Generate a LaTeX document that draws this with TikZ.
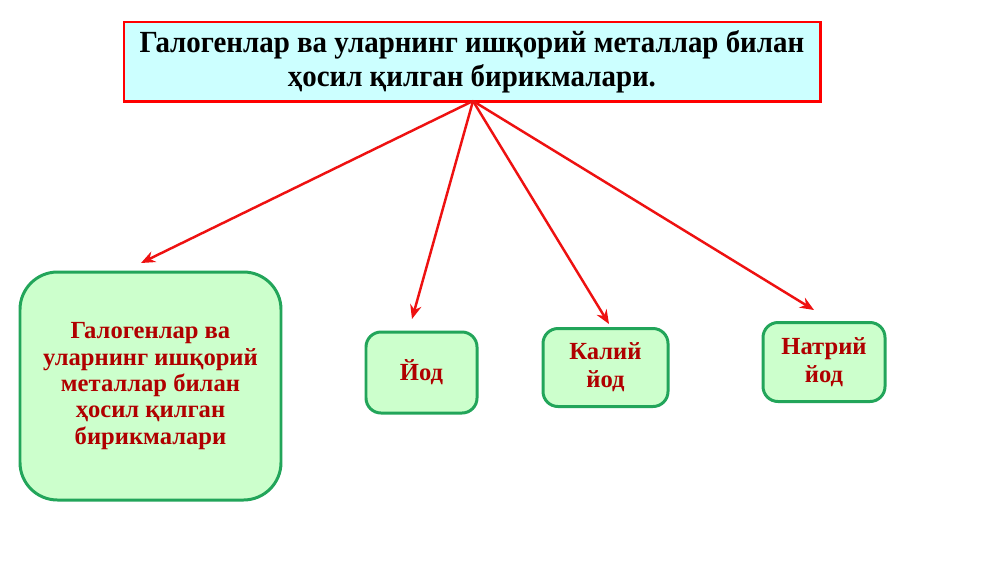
\documentclass[tikz,border=0pt]{standalone}
\usepackage{fontspec}
\setmainfont{Liberation Serif}
\newfontfamily\titlefont[FakeStretch=0.94]{Liberation Serif}
\usetikzlibrary{arrows.meta}
\definecolor{titlefill}{HTML}{CCFFFF}
\definecolor{boxfill}{HTML}{CCFFCC}
\definecolor{boxline}{HTML}{22A55A}
\definecolor{boxtext}{HTML}{B00000}
\definecolor{arrowred}{HTML}{EE1111}
\tikzset{
  titlebox/.style={draw=red, line width=1.7pt, fill=titlefill, inner sep=0pt,
    minimum width=696*0.02cm, minimum height=79*0.02cm, align=center,
    font=\titlefont\fontsize{17.5}{19.5}\selectfont\bfseries, text=black},
  greenbox/.style={draw=boxline, line width=1.7pt, fill=boxfill, inner sep=0pt,
    align=center, text=boxtext, font=\fontsize{14}{15}\selectfont\bfseries},
  smallbox/.style={greenbox, rounded corners=0.3cm, font=\fontsize{14}{16}\selectfont\bfseries},
  redarrow/.style={draw=arrowred, line width=1.4pt, -{Stealth[length=8pt,width=6.5pt]}}
}
\begin{document}
\begin{tikzpicture}[x=0.02cm,y=-0.02cm]
\useasboundingbox (0,0) rectangle (1000,562);
\fill[white] (0,0) rectangle (1000,562);
\node[titlebox] (title) at (472,61.5) {Галогенлар ва уларнинг ишқорий металлар билан\\ ҳосил қилган бирикмалари.};
\node[greenbox, rounded corners=0.75cm, minimum width=261*0.02cm, minimum height=228*0.02cm] (big) at (150.5,386) {Галогенлар ва\\ уларнинг ишқорий\\ металлар билан\\ ҳосил қилган\\ бирикмалари};
\node[smallbox, minimum width=111*0.02cm, minimum height=81*0.02cm] (iod) at (421.5,372.5) {Йод};
\node[smallbox, minimum width=125*0.02cm, minimum height=78*0.02cm] (kiod) at (605.5,367.5) {Калий\\ йод};
\node[smallbox, minimum width=122*0.02cm, minimum height=79*0.02cm] (niod) at (824,362) {Натрий\\ йод};
\coordinate (o) at (473,101);
\coordinate (t1) at (141,263);
\coordinate (t2) at (412,319);
\coordinate (t3) at (609,324);
\coordinate (t4) at (814,310);
\draw[redarrow] (o) -- (t1);
\draw[redarrow] (o) -- (t2);
\draw[redarrow] (o) -- (t3);
\draw[redarrow] (o) -- (t4);
\end{tikzpicture}
\end{document}
